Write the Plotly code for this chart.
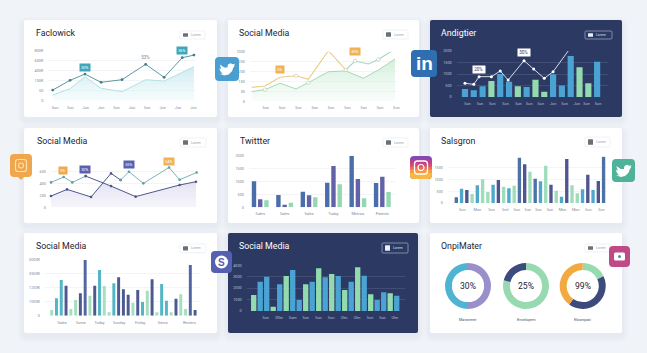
import plotly.graph_objects as go

W, H = 647, 353
BG = "#f0f3f8"
DARK = "#2c3963"
TEXT = "#1d2430"

# ---------- data ----------
c1_ylabels = ["0", "50", "150K", "400K", "600K", "800K"]
c1_xlabels = ["Sun", "Sun", "Jun", "Jun", "Sun", "Jun", "Sun", "Jun", "Jun", "Jun"]
c1_x = [-0.15, 0.98, 1.95, 3, 4.36, 5.9, 7.1, 8.28, 9.04]
c1_line = [53, 102, 133, 92, 105, 182, 117, 215, 228]
c1_area = [28, 60, 120, 62, 45, 105, 98, 142, 170]

c2_ylabels = ["0", "50", "150", "200", "250", "1000"]
c2_xlabels = ["Sun", "Sun", "Sun", "Sun", "Sun", "Sun", "Sun", "Sun", "Sun"]
c2_up_x = [-0.86, -0.04, 0.88, 1.86, 2.61, 3.84, 4.9]
c2_up = [70, 77, 121, 129, 111, 255, 158]
c2_up2_x = [4.9, 5.47, 6.29, 6.9, 7.88]
c2_up2 = [158, 203, 188, 211, 262]
c2_lo_x = [-0.86, -0.04, 0.88, 1.86, 2.61, 3.84, 4.9, 5.98, 6.9, 7.92]
c2_lo = [49, 59, 91, 62, 94, 149, 153, 116, 158, 213]
c2_dots_x = [-0.04, 1.86, 2.61, 3.84, 4.9, 5.47, 6.9]
c2_dots = [59, 129, 94, 255, 158, 203, 211]

c3_ylabels = ["0", "500", "1000", "1500", "2000"]
c3_xlabels = ["Sun", "Sun", "Sun", "Sun", "Sun", "Sun", "Sun", "Jun", "Sun", "Jun", "Sun", "Sun"]
c3_xticks = [0.27, 1.7, 3.1, 4.6, 6.06, 7.3, 8.6, 10, 11.3, 12.7, 13.8, 15.1]
c3_bars = [350, 290, 465, 695, 1000, 665, 465, 435, 755, 230, 985, 505, 1780, 1290, 595, 1535]
c3_kinds = "BBBGBBGBGGBBBGGB"
c3_line_x = [0, 1, 1.6, 3, 4, 4.9, 6.7, 7.8, 9, 10, 11.8]
c3_line = [595, 550, 885, 885, 1130, 740, 1580, 1220, 810, 1100, 2045]

c4_ylabels = ["0", "200", "400", "600"]
c4_area_x = [0, 1.1, 2.75, 3.52, 4.12, 5.81, 8.83, 9.95]
c4_area = [95, 151, 87, 202, 179, 90, 188, 216]
c4_t1_x = [0, 0.87, 1.46, 2.38]
c4_t1 = [210, 255, 210, 263]
c4_d1_x = [2.38, 4.12, 5.81, 8.83, 9.95]
c4_d1 = [263, 179, 90, 188, 216]
c4_d2_x = [0, 1.1, 2.75, 4.12, 4.78]
c4_d2 = [95, 151, 87, 286, 230]
c4_t2_x = [4.78, 5.35, 6.34, 8.1, 8.83, 10]
c4_t2 = [230, 300, 202, 336, 232, 294]

c5_ylabels = ["0", "500", "1000", "1500", "2000"]
c5_xlabels = ["Sales", "Sales", "Sales", "Today", "Metrics", "Patents"]
c5_a = [1006, 477, 606, 955, 2000, 942]
c5_b = [310, 103, 464, 1600, 1097, 1187]
c5_c = [271, 181, 387, 890, 348, 593]

c6_ylabels = ["0", "500", "1000", "1500"]
c6_xlabels = ["Sun", "Mon", "Sun", "Sml", "Sun", "Sun", "Sun", "Sun", "Mon", "Mon", "Sun", "Sun"]
c6_xticks = [1.14, 4, 6.7, 9.3, 11.5, 13.6, 15.6, 17.8, 20.2, 22.7, 25.1, 27.6]
c6_bars = [243, 614, 557, 386, 757, 1015, 472, 786, 986, 700, 629, 743, 1943, 1658, 1343,
           1043, 929, 1600, 786, 529, 271, 1886, 757, 414, 586, 1214, 557, 943, 1986]
c6_kinds = "SBNGBGGBNGBGSNGSBGNGBNGGBNBNS"

c7_ylabels = ["0", "1000K", "1200K", "3500K", "5000K"]
c7_xlabels = ["Sales", "Some", "Today", "Sunday", "Friday", "Sierra", "Reuters"]
c7_xticks = [2.2, 6.1, 10, 14.1, 18.5, 23.2, 28.8]
c7_bars = [407, 1245, 2563, 2156, 479, 1126, 1605, 4048, 1437, 2156, 3281, 2132, 240, 2323, 2754,
           1892, 1509, 934, 1844, 982, 1796, 2611, 240, 2275, 1078, 240, 1221, 1533, 479, 3640, 407]
c7_kinds = "GTTNGGNSGNTGGTNNNGNTGNGTTGNGGSN"

c8_ylabels = ["0", "1000", "2000", "3000", "4000"]
c8_xlabels = ["Sun", "Oller", "Sam", "Sun", "Sun", "Sun", "Ulm", "Ulm", "Sun", "Sun", "Ulm"]
c8_xticks = [1.85, 3.9, 6, 8, 9.95, 11.9, 13.9, 15.9, 17.9, 19.8, 21.7]
c8_bars = [701, 1285, 1504, 190, 1168, 1533, 1796, 482, 1168, 1285, 1869, 1475, 1621, 1533, 920,
           1285, 1913, 1548, 730, 482, 818, 774, 672]
c8_kinds = "GBBGBGBBGBGBGBGBGBGBBGB"

d_labels = ["Maronmer", "Envelopem", "Eloseqost"]
d_center = ["30%", "25%", "99%"]
d1_values = [50, 50]
d2_values = [79, 21]
d3_values = [18, 42, 40]

card_titles = ["Faclowick", "Social Media", "Andigtier", "Social Media", "Twittter",
               "Salsgron", "Social Media", "Social Media", "OnpiMater"]
button_text = "Lorem"

# ---------- colours ----------
PAL = {"B": "#4aa3d2", "G": "#93dbae", "N": "#4f5590", "S": "#4d70a8", "T": "#51b4c6"}
C6 = {"B": "#4fa8cc", "G": "#9fdcbb", "N": "#50558f", "S": "#4f72a6"}
C7 = {"G": "#a5dfc0", "T": "#52b6c6", "N": "#4d5a92", "S": "#5266a4"}

fig = go.Figure()
shapes, annos = [], []
axcount = [0]


def fx(p):
    return p / W


def fy(p):
    return 1 - p / H


def rr_path(x0, y0, x1, y1, r):
    X0, X1, Y0, Y1 = fx(x0), fx(x1), fy(y0), fy(y1)
    rx, ry = r / W, r / H
    return (f"M{X0+rx},{Y0} L{X1-rx},{Y0} Q{X1},{Y0} {X1},{Y0-ry} L{X1},{Y1+ry} Q{X1},{Y1} {X1-rx},{Y1} "
            f"L{X0+rx},{Y1} Q{X0},{Y1} {X0},{Y1+ry} L{X0},{Y0-ry} Q{X0},{Y0} {X0+rx},{Y0} Z")


def rect(x0, y0, x1, y1, r, fill, line=None, lw=0, layer="below", op=1):
    shapes.append(dict(type="path", xref="paper", yref="paper", path=rr_path(x0, y0, x1, y1, r),
                       fillcolor=fill, line=dict(color=line or "rgba(0,0,0,0)", width=lw),
                       layer=layer, opacity=op))


def poly(pts, fill, layer="above"):
    d = "M" + " L".join(f"{fx(a)},{fy(b)}" for a, b in pts) + " Z"
    shapes.append(dict(type="path", xref="paper", yref="paper", path=d, fillcolor=fill,
                       line=dict(width=0), layer=layer))


def text(x, y, s, size, color, anchor="left", family="Roboto", bold=False):
    annos.append(dict(xref="paper", yref="paper", x=fx(x), y=fy(y), text=f"<b>{s}</b>" if bold else s,
                      showarrow=False, xanchor=anchor, yanchor="middle", borderpad=0,
                      font=dict(size=size, color=color, family=family)))


def card(x0, y0, x1, y1, fill, title, tx, ty, btn, dark=False):
    for g, o in ((6, 0.10), (4, 0.14), (2, 0.2)):
        rect(x0 - g, y0 - g + 3, x1 + g, y1 + g + 3, 4 + g, "#d9dfeb", op=o)
    rect(x0, y0, x1, y1, 2, fill)
    text(tx, ty, title, 8.8, "#ffffff" if dark else TEXT)
    bx0, by0, bx1, by1 = btn
    rect(bx0, by0, bx1, by1, 1.2, "rgba(0,0,0,0)" if dark else "#ffffff",
         line="#b9c4dc" if dark else "#e6e9ef", lw=0.6)
    rect(bx0 + 3, by0 + 2.2, bx0 + 8, by1 - 2.2, 0.5, "#e8edf6" if dark else "#6a7078")
    text(bx0 + 10, (by0 + by1) / 2, button_text, 3.4, "#d8e0ef" if dark else "#9aa1ad")


def panel(px0, px1, ptop, pbot, xr, yr, yticks, ylabels, xticks=None, xlabels=None, dark=False):
    axcount[0] += 1
    n = axcount[0]
    tick = "#b5c0d6" if dark else "#7f8794"
    grid = "rgba(255,255,255,0.10)" if dark else "#f2f4f8"
    fnt = dict(size=3.8, color=tick, family="Roboto")
    fig.layout[f"xaxis{n}"] = dict(domain=[fx(px0), fx(px1)], range=xr, anchor=f"y{n}", showgrid=False,
                                   zeroline=False, showline=False, tickmode="array", automargin=False,
                                   tickvals=xticks or [], ticktext=xlabels or [], ticks="",
                                   tickfont=fnt, ticklabelstandoff=3, fixedrange=True)
    fig.layout[f"yaxis{n}"] = dict(domain=[fy(pbot), fy(ptop)], range=yr, anchor=f"x{n}", showgrid=True,
                                   gridcolor=grid, gridwidth=0.7, zeroline=False, showline=False,
                                   tickmode="array", tickvals=yticks, ticktext=ylabels, ticks="",
                                   automargin=False, tickfont=fnt, ticklabelstandoff=4, fixedrange=True)
    return f"x{n}", f"y{n}"


def line(ax, xs, ys, color, w=1.0, ms=2.6, mcolor=None, grad=None):
    kw = {}
    if grad:
        kw = dict(fill="tozeroy", fillgradient=dict(type="vertical", colorscale=grad))
    fig.add_trace(go.Scatter(x=xs, y=ys, xaxis=ax[0], yaxis=ax[1], mode="lines+markers" if ms else "lines",
                             line=dict(color=color, width=w), marker=dict(size=ms, color=mcolor or color),
                             cliponaxis=False, showlegend=False, hoverinfo="skip", **kw))


def bars(ax, ys, colors, width, xs=None, offset=None):
    fig.add_trace(go.Bar(x=xs if xs is not None else list(range(len(ys))), y=ys, xaxis=ax[0], yaxis=ax[1],
                         width=width, offset=offset if offset is not None else -width / 2,
                         marker=dict(color=colors, line=dict(width=0)), cliponaxis=False,
                         showlegend=False, hoverinfo="skip"))


def badge(ax, x, y, s, bg, fg="#ffffff", size=3.8, pad=1.2):
    annos.append(dict(xref=ax[0], yref=ax[1], x=x, y=y, text=s, showarrow=False, bgcolor=bg, borderpad=pad,
                      font=dict(size=size, color=fg, family="Roboto")))


# ---------- cards ----------
card(24, 20, 217, 117, "#ffffff", card_titles[0], 35, 33, (180, 31, 205, 39))
card(228, 20, 419, 117, "#ffffff", card_titles[1], 238, 33, (383, 30, 408, 39))
card(430, 20, 622, 117, DARK, card_titles[2], 440, 33, (585, 31, 612, 39), dark=True)
card(24, 128, 217, 223, "#ffffff", card_titles[3], 36, 141, (180, 138, 206, 147))
card(228, 128, 419, 223, "#ffffff", card_titles[4], 239, 141, (383, 138, 408, 147))
card(430, 128, 622, 223, "#ffffff", card_titles[5], 440, 140.5, (585, 137, 610, 147))
card(24, 233, 217, 333, "#ffffff", card_titles[6], 35, 245.5, (180, 244, 206, 252.7))
card(228, 233, 418, 333, DARK, card_titles[7], 238, 246, (382, 243, 408, 253), dark=True)
card(430, 233, 622, 333, "#ffffff", card_titles[8], 440, 245.5, (585, 244, 610, 252))

# chart 1
a = panel(48.3, 195, 50.7, 100.7, [(48.3 - 55) / 15.37, (195 - 55) / 15.37], [0, 250],
          [0, 50, 100, 150, 200, 250], c1_ylabels, list(range(10)), c1_xlabels)
line(a, c1_x, c1_area, "#b4e2e4", 1, 0, grad=[[0, "rgba(225,245,247,0.3)"], [1, "#cdebef"]])
line(a, c1_x, c1_line, "#5f97a0", 1, 2.8, "#3f7f8c")
badge(a, 1.95, 167, "30%", "#3fa7b9")
badge(a, 5.9, 215, "53%", "rgba(0,0,0,0)", "#6f8f95", 4.6)
badge(a, 8.28, 250, "36%", "#3fa7b9")

# chart 2
a = panel(250, 396.7, 51.7, 101.3, [(250 - 265.7) / 16.33, (396.7 - 265.7) / 16.33], [0, 250],
          [0, 50, 100, 150, 200, 250], c2_ylabels, list(range(9)), c2_xlabels)
line(a, c2_lo_x, c2_lo, "#a7d8b4", 1, 0, grad=[[0, "rgba(232,247,237,0.3)"], [1, "#d3efdb"]])
line(a, c2_up_x, c2_up, "#eccb86", 1.1, 0)
line(a, c2_up2_x, c2_up2, "#a3d5bf", 1.1, 0)
fig.add_trace(go.Scatter(x=c2_dots_x, y=c2_dots, xaxis=a[0], yaxis=a[1], mode="markers", cliponaxis=False,
                         showlegend=False, hoverinfo="skip",
                         marker=dict(size=3.4, color="#ffffff", line=dict(color="#b8c9a8", width=0.6))))
badge(a, 0.88, 162, "5%", "#f0b253")
badge(a, 5.47, 250, "30%", "#f0b253")

# chart 3
a = panel(456.7, 607.7, 51, 97, [-0.94, 16.2], [0, 2000], [0, 500, 1000, 1500, 2000], c3_ylabels,
          c3_xticks, c3_xlabels, dark=True)
bars(a, c3_bars, [PAL[k] for k in c3_kinds], 0.7)
line(a, c3_line_x, c3_line, "#e8edf6", 0.9, 3, "#ffffff")
badge(a, 1.6, 1180, "20%", "#ffffff", "#2c3963", 4.6)
badge(a, 6.7, 1925, "30%", "#ffffff", "#2c3963", 4.6)

# chart 4
a = panel(51, 196.7, 157.5, 207.3, [0, 10], [0, 420], [0, 100, 200, 300], c4_ylabels)
line(a, c4_area_x, c4_area, "rgba(0,0,0,0)", 0, 0, grad=[[0, "rgba(236,235,247,0.5)"], [1, "#e4e2f2"]])
line(a, c4_t1_x, c4_t1, "#79b3b5", 1, 2.6, "#5f9ea3")
line(a, c4_d1_x, c4_d1, "#4d5788", 1, 2.6)
line(a, c4_d2_x, c4_d2, "#4d5788", 1, 2.6)
line(a, c4_t2_x, c4_t2, "#79b3b5", 1, 2.6, "#5f9ea3")
badge(a, 0.85, 308, "5%", "#eeaa4d")
badge(a, 2.35, 322, "30%", "#5a60ad")
badge(a, 5.35, 358, "55%", "#5a60ad")
badge(a, 8.1, 390, "54%", "#f0b253")

# chart 5
a = panel(249, 395, 155.7, 207.3, [-0.46, 5.52], [0, 2000], [0, 500, 1000, 1500, 2000], c5_ylabels,
          list(range(6)), c5_xlabels)
for vals, col, off in ((c5_a, "#4a6eaa", -0.345), (c5_b, "#6361a8", -0.09), (c5_c, "#94d7b0", 0.165)):
    bars(a, vals, col, 0.18, offset=off)

# chart 6
a = panel(448, 606.7, 156.3, 203, [(448 - 456.3) / 5.26, (606.7 - 456.3) / 5.26], [0, 2000],
          [0, 500, 1000, 1500], c6_ylabels, c6_xticks, c6_xlabels)
bars(a, c6_bars, [C6[k] for k in c6_kinds], 0.64)

# chart 7
a = panel(45, 200, 260, 315.7, [(45 - 51.7) / 4.78, (200 - 51.7) / 4.78], [0, 4000],
          [0, 1000, 2000, 3000, 4000], c7_ylabels, c7_xticks, c7_xlabels)
bars(a, c7_bars, [C7[k] for k in c7_kinds], 0.62)

# chart 8
a = panel(246.7, 405, 265.3, 311, [(246.7 - 253.7) / 6.5, (405 - 253.7) / 6.5], [0, 2000],
          [0, 500, 1000, 1500, 2000], c8_ylabels, c8_xticks, c8_xlabels, dark=True)
bars(a, c8_bars, [PAL[k] for k in c8_kinds], 0.82)

# chart 9 donuts
centres = [468, 526, 582.7]
donuts = [(d1_values, ["#9a8fcb", "#4fb3d2"]),
          (d2_values, ["#97dab0", "#3c4a7c"]),
          (d3_values, ["#97dab0", "#3c4a7c", "#f2a93f"])]
for cx, (vals, cols), lab, ct in zip(centres, donuts, d_labels, d_center):
    r = 23
    fig.add_trace(go.Pie(values=vals, hole=0.7, sort=False, direction="clockwise", rotation=0,
                         marker=dict(colors=cols, line=dict(width=0)), textinfo="none", hoverinfo="skip",
                         showlegend=False, domain=dict(x=[fx(cx - r), fx(cx + r)], y=[fy(286 + r), fy(286 - r)])))
    text(cx, 286, ct, 8.6, TEXT, "center")
    text(cx, 319, lab, 3.8, "#4a5160", "center")


# ---------- icons ----------
def bird(cx, cy, s, color="#ffffff"):
    pts = [(-1, 0.55), (-0.55, 0.62), (-0.82, 0.28), (-0.98, -0.05), (-0.72, 0.0), (-0.9, -0.55), (-0.35, -0.18),
           (0.05, -0.2), (0.12, -0.55), (0.45, -0.72), (0.72, -0.58), (1, -0.65), (0.85, -0.4), (1, -0.42),
           (0.8, -0.18), (0.62, 0.28), (0.2, 0.68), (-0.35, 0.8)]
    poly([(cx + s * p, cy + s * q) for p, q in pts], color)


# twitter blue
rect(215, 57, 239, 81, 4, "#4a9fd0", layer="above")
bird(227, 69, 8)
# linkedin
rect(411, 50, 437, 77, 4, "#2f6eb0", layer="above")
text(424, 63.5, "in", 19, "#ffffff", "center", "Liberation Sans", True)
# instagram orange
poly([(17, 176), (25, 176), (21, 180)], "#f0a64a")
rect(10, 154, 32, 177, 4, "#f0a64a", layer="above")
rect(15.5, 159.5, 26.5, 171.5, 2.5, "rgba(0,0,0,0)", line="#fbe3b8", lw=1.2, layer="above")
shapes.append(dict(type="circle", xref="paper", yref="paper", x0=fx(18.5), x1=fx(23.5), y0=fy(168), y1=fy(163),
                   line=dict(color="#fbe3b8", width=1.1), layer="above"))
# instagram gradient
ig = ["#8a46b0", "#b9418f", "#d9476f", "#ee6a50", "#f59a3f", "#f7b844"]
rect(410, 156, 432, 179, 4, ig[0], layer="above")
rect(410, 170, 432, 179, 4, ig[5], layer="above")
for i, c in enumerate(ig[1:5]):
    rect(410, 160 + i * 3.2, 432, 160 + (i + 1) * 3.2 + 0.3, 0, c, layer="above")
rect(414.5, 161, 427.5, 174, 3, "rgba(0,0,0,0)", line="#ffffff", lw=1.3, layer="above")
shapes.append(dict(type="circle", xref="paper", yref="paper", x0=fx(418), x1=fx(424), y0=fy(170.5), y1=fy(164.5),
                   line=dict(color="#ffffff", width=1.2), layer="above"))
# twitter teal
rect(612, 159, 635, 182, 4, "#4fb39a", layer="above")
bird(623.5, 170.5, 8)
# swirl icon
rect(211, 251, 232, 273, 4, "#5560b0", layer="above")
shapes.append(dict(type="circle", xref="paper", yref="paper", x0=fx(215), x1=fx(228), y0=fy(268.5), y1=fy(255.5),
                   fillcolor="#ffffff", line=dict(width=0), layer="above"))
text(221.5, 262, "S", 10, "#5560b0", "center", "Liberation Sans", True)
# youtube
rect(609, 246, 630, 267, 4, "#c04a86", layer="above")
rect(614, 252.5, 625, 260.5, 1.5, "#ffffff", layer="above")
shapes.append(dict(type="circle", xref="paper", yref="paper", x0=fx(618), x1=fx(621), y0=fy(258), y1=fy(255),
                   fillcolor="#4f8f9a", line=dict(width=0), layer="above"))

fig.update_layout(width=W, height=H, margin=dict(l=0, r=0, t=0, b=0), paper_bgcolor=BG, plot_bgcolor="rgba(0,0,0,0)",
                  barmode="overlay", shapes=shapes, annotations=annos, showlegend=False,
                  font=dict(family="Roboto"))
fig.write_html("out.html", config=dict(displayModeBar=False),
               post_script="document.body.style.margin='0';document.body.style.overflow='hidden';")
